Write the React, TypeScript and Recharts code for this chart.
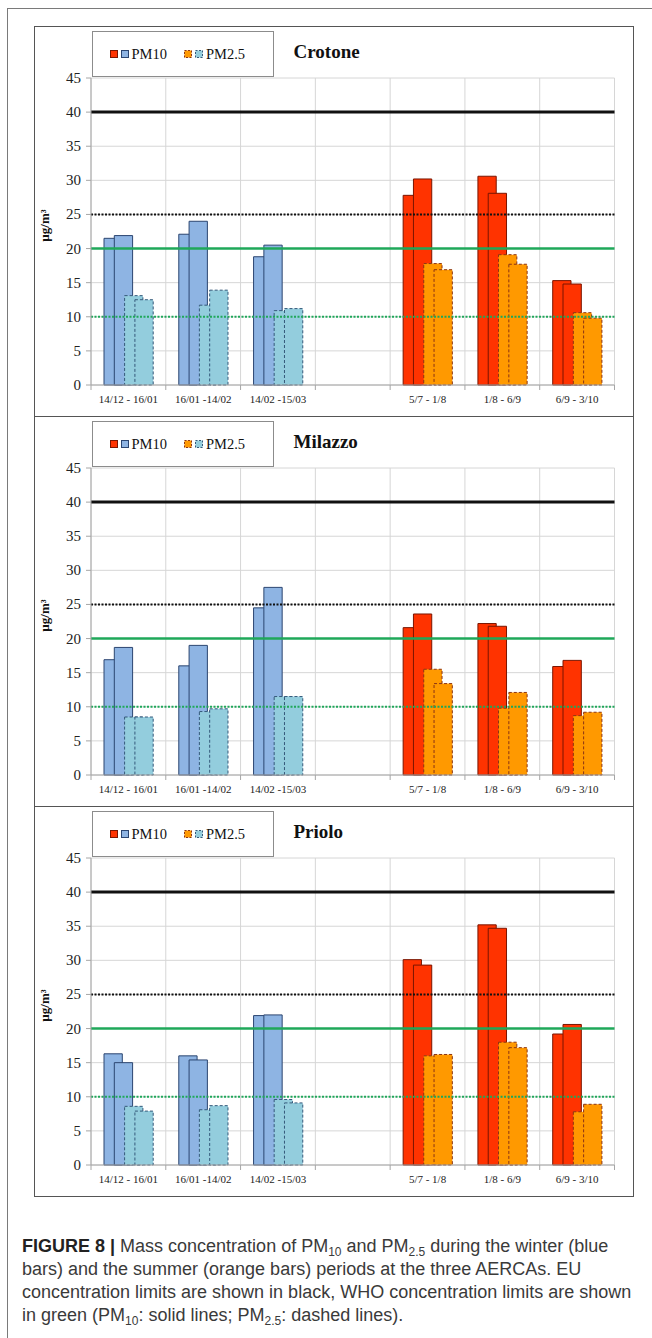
import { BarChart, Bar, XAxis, YAxis, CartesianGrid, ReferenceLine, Legend, Cell } from 'recharts'

// sampling periods (4th slot is the empty gap between winter and summer)
const categories = ['14/12 - 16/01', '16/01 -14/02', '14/02 -15/03', '', '5/7 - 1/8', '1/8 - 6/9', '6/9 - 3/10']
const seasons = ['winter', 'winter', 'winter', 'none', 'summer', 'summer', 'summer']

const crotonePm10a = [21.5, 22.1, 18.8, null, 27.8, 30.6, 15.3]
const crotonePm10b = [21.9, 24.0, 20.5, null, 30.2, 28.1, 14.8]
const crotonePm25a = [13.1, 11.7, 10.9, null, 17.8, 19.1, 10.6]
const crotonePm25b = [12.5, 13.9, 11.2, null, 16.9, 17.7, 9.8]

const milazzoPm10a = [16.9, 16.0, 24.5, null, 21.6, 22.2, 15.9]
const milazzoPm10b = [18.7, 19.0, 27.5, null, 23.6, 21.8, 16.8]
const milazzoPm25a = [8.5, 9.3, 11.5, null, 15.5, 9.8, 8.7]
const milazzoPm25b = [8.5, 9.7, 11.5, null, 13.4, 12.1, 9.2]

const prioloPm10a = [16.3, 16.0, 21.9, null, 30.1, 35.2, 19.2]
const prioloPm10b = [15.0, 15.4, 22.0, null, 29.3, 34.7, 20.6]
const prioloPm25a = [8.6, 8.1, 9.6, null, 16.0, 18.0, 7.8]
const prioloPm25b = [7.9, 8.7, 9.1, null, 16.2, 17.2, 8.9]

const yTicks = [0, 5, 10, 15, 20, 25, 30, 35, 40, 45]
const euLimits = [40, 25] // PM10, PM2.5
const whoLimits = [20, 10] // PM10, PM2.5

const SERIF = '"Liberation Serif", "Times New Roman", serif'

const COLORS: Record<string, { pm10: string; pm10Stroke: string; pm25: string; pm25Stroke: string }> = {
  winter: { pm10: '#8EB4E3', pm10Stroke: '#2B4570', pm25: '#93CDDD', pm25Stroke: '#35597A' },
  summer: { pm10: '#FF3300', pm10Stroke: '#7A1500', pm25: '#FF9900', pm25Stroke: '#8A3414' },
  none: { pm10: 'none', pm10Stroke: 'none', pm25: 'none', pm25Stroke: 'none' },
}

const CHART_W = 598
const CHART_H = 389
const Y_W = 56
const MARGIN = { top: 51, right: 18.5, bottom: 0, left: 0 }
const BAND = (CHART_W - Y_W - MARGIN.right) / categories.length

function buildRows(a: (number | null)[], b: (number | null)[], c: (number | null)[], d: (number | null)[]) {
  return categories.map((cat, i) => ({ cat, season: seasons[i], pm10a: a[i], pm10b: b[i], pm25a: c[i], pm25b: d[i] }))
}

const sites = [
  { name: 'Crotone', rows: buildRows(crotonePm10a, crotonePm10b, crotonePm25a, crotonePm25b) },
  { name: 'Milazzo', rows: buildRows(milazzoPm10a, milazzoPm10b, milazzoPm25a, milazzoPm25b) },
  { name: 'Priolo', rows: buildRows(prioloPm10a, prioloPm10b, prioloPm25a, prioloPm25b) },
]

const XTick = ({ x, y, payload, index }: any) => {
  const last = index === categories.length - 1
  return (
    <g>
      <line x1={x - BAND / 2} x2={x - BAND / 2} y1={y} y2={y + 5} stroke="#a6a6a6" />
      {last && <line x1={x + BAND / 2} x2={x + BAND / 2} y1={y} y2={y + 5} stroke="#a6a6a6" />}
      <text x={x} y={y + 14} textAnchor="middle" dominantBaseline="central" fontSize={11} fontFamily={SERIF} fill="#222">
        {payload.value}
      </text>
    </g>
  )
}

const YTick = ({ x, y, payload }: any) => (
  <text x={x} y={y} textAnchor="end" dominantBaseline="central" fontSize={15} fontFamily={SERIF} fill="#222">
    {payload.value}
  </text>
)

const YLabel = ({ viewBox }: any) => {
  const cx = viewBox.x + 9
  const cy = viewBox.y + viewBox.height / 2 - 6
  return (
    <text x={cx} y={cy} transform={`rotate(-90 ${cx} ${cy})`} textAnchor="middle" dominantBaseline="central" fontSize={13} fontFamily={SERIF} fontWeight="bold" fill="#111">
      µg/m³
    </text>
  )
}

const Swatch = ({ fill, stroke, dashed }: { fill: string; stroke: string; dashed?: boolean }) => (
  <svg width={8} height={8} style={{ display: 'inline-block', marginRight: 3 }}>
    <rect x={0.5} y={0.5} width={7} height={7} fill={fill} stroke={stroke} strokeWidth={1} strokeDasharray={dashed ? '2 1.5' : undefined} />
  </svg>
)

const LegendBox = ({ title }: { title: string }) => (
  <div style={{ position: 'relative', width: 320, height: 46, fontFamily: SERIF }}>
    <div
      style={{
        position: 'absolute', left: 0, top: 0, width: 180, height: 44, border: '1px solid #8c8c8c',
        display: 'flex', alignItems: 'center', fontSize: 14.5, color: '#111', background: '#fff',
      }}
    >
      <span style={{ marginLeft: 17, display: 'flex', alignItems: 'center' }}>
        <Swatch fill={COLORS.summer.pm10} stroke={COLORS.summer.pm10Stroke} />
        <Swatch fill={COLORS.winter.pm10} stroke={COLORS.winter.pm10Stroke} />
        PM10
      </span>
      <span style={{ marginLeft: 17, display: 'flex', alignItems: 'center' }}>
        <Swatch fill={COLORS.summer.pm25} stroke={COLORS.summer.pm25Stroke} dashed />
        <Swatch fill={COLORS.winter.pm25} stroke={COLORS.winter.pm25Stroke} dashed />
        PM2.5
      </span>
    </div>
    <div style={{ position: 'absolute', left: 202, top: 10, fontSize: 19, fontWeight: 'bold', color: '#111' }}>{title}</div>
  </div>
)

function SitePanel({ name, rows, last }: { name: string; rows: any[]; last?: boolean }) {
  return (
    <div style={{ height: CHART_H, borderBottom: last ? 'none' : '1.5px solid #555', fontFamily: SERIF }}>
      <BarChart width={CHART_W} height={CHART_H} data={rows} margin={MARGIN} barGap={-8} barSize={18.3}>
        <CartesianGrid
          stroke="#d6d6d6"
          verticalCoordinatesGenerator={({ offset }: any) =>
            Array.from({ length: categories.length + 1 }, (_, i) => offset.left + (i * offset.width) / categories.length)
          }
        />
        <XAxis dataKey="cat" height={31} tickLine={false} tickSize={0} tickMargin={0} axisLine={{ stroke: '#a6a6a6' }} tick={<XTick />} interval={0} />
        <YAxis
          width={Y_W}
          domain={[0, 45]}
          ticks={yTicks}
          tickSize={5}
          tickMargin={5}
          axisLine={{ stroke: '#a6a6a6' }}
          tickLine={{ stroke: '#a6a6a6' }}
          tick={<YTick />}
          label={{ content: YLabel }}
        />
        <Legend
          layout="horizontal"
          verticalAlign="middle"
          align="center"
          wrapperStyle={{ top: 4, left: 56.5, width: 320, height: 46 }}
          content={() => <LegendBox title={name} />}
        />
        <Bar dataKey="pm10a" isAnimationActive={false} strokeWidth={1}>
          {rows.map((r) => <Cell key={r.cat + 'a'} fill={COLORS[r.season].pm10} stroke={COLORS[r.season].pm10Stroke} />)}
        </Bar>
        <Bar dataKey="pm10b" isAnimationActive={false} strokeWidth={1}>
          {rows.map((r) => <Cell key={r.cat + 'b'} fill={COLORS[r.season].pm10} stroke={COLORS[r.season].pm10Stroke} />)}
        </Bar>
        <Bar dataKey="pm25a" isAnimationActive={false} strokeWidth={1} strokeDasharray="3 2">
          {rows.map((r) => <Cell key={r.cat + 'c'} fill={COLORS[r.season].pm25} stroke={COLORS[r.season].pm25Stroke} />)}
        </Bar>
        <Bar dataKey="pm25b" isAnimationActive={false} strokeWidth={1} strokeDasharray="3 2">
          {rows.map((r) => <Cell key={r.cat + 'd'} fill={COLORS[r.season].pm25} stroke={COLORS[r.season].pm25Stroke} />)}
        </Bar>
        <ReferenceLine y={euLimits[0]} stroke="#111" strokeWidth={3} />
        <ReferenceLine y={euLimits[1]} stroke="#111" strokeWidth={2} strokeDasharray="2 1.5" />
        <ReferenceLine y={whoLimits[0]} stroke="#1FA85A" strokeWidth={2.5} />
        <ReferenceLine y={whoLimits[1]} stroke="#1FA85A" strokeWidth={2} strokeDasharray="2 1.5" />
      </BarChart>
    </div>
  )
}

const sub = { fontSize: 12, verticalAlign: '-4px' as const, lineHeight: 0 }

export default function App() {
  return (
    <div style={{ position: 'absolute', left: 0, top: 0, width: 652, height: 1338, overflow: 'hidden', background: '#fff' }}>
      <div style={{ position: 'absolute', left: 7, top: 8, width: 700, height: 1400, borderLeft: '1.5px solid #7a7a7a', borderTop: '1.5px solid #7a7a7a' }} />
      <div style={{ position: 'absolute', left: 34, top: 26, width: CHART_W, border: '1.5px solid #555', background: '#fff' }}>
        {sites.map((s, i) => (
          <SitePanel key={s.name} name={s.name} rows={s.rows} last={i === sites.length - 1} />
        ))}
      </div>
      <div
        style={{
          position: 'absolute', left: 22, top: 1235, fontFamily: '"Liberation Sans", Arial, sans-serif',
          fontSize: 18, lineHeight: '23px', color: '#3a3a3a', whiteSpace: 'nowrap',
        }}
      >
        <div>
          <b style={{ color: '#222' }}>FIGURE 8 |</b> Mass concentration of PM<span style={sub}>10</span> and PM<span style={sub}>2.5</span> during the winter (blue
        </div>
        <div>bars) and the summer (orange bars) periods at the three AERCAs. EU</div>
        <div>concentration limits are shown in black, WHO concentration limits are shown</div>
        <div>
          in green (PM<span style={sub}>10</span>: solid lines; PM<span style={sub}>2.5</span>: dashed lines).
        </div>
      </div>
    </div>
  )
}
